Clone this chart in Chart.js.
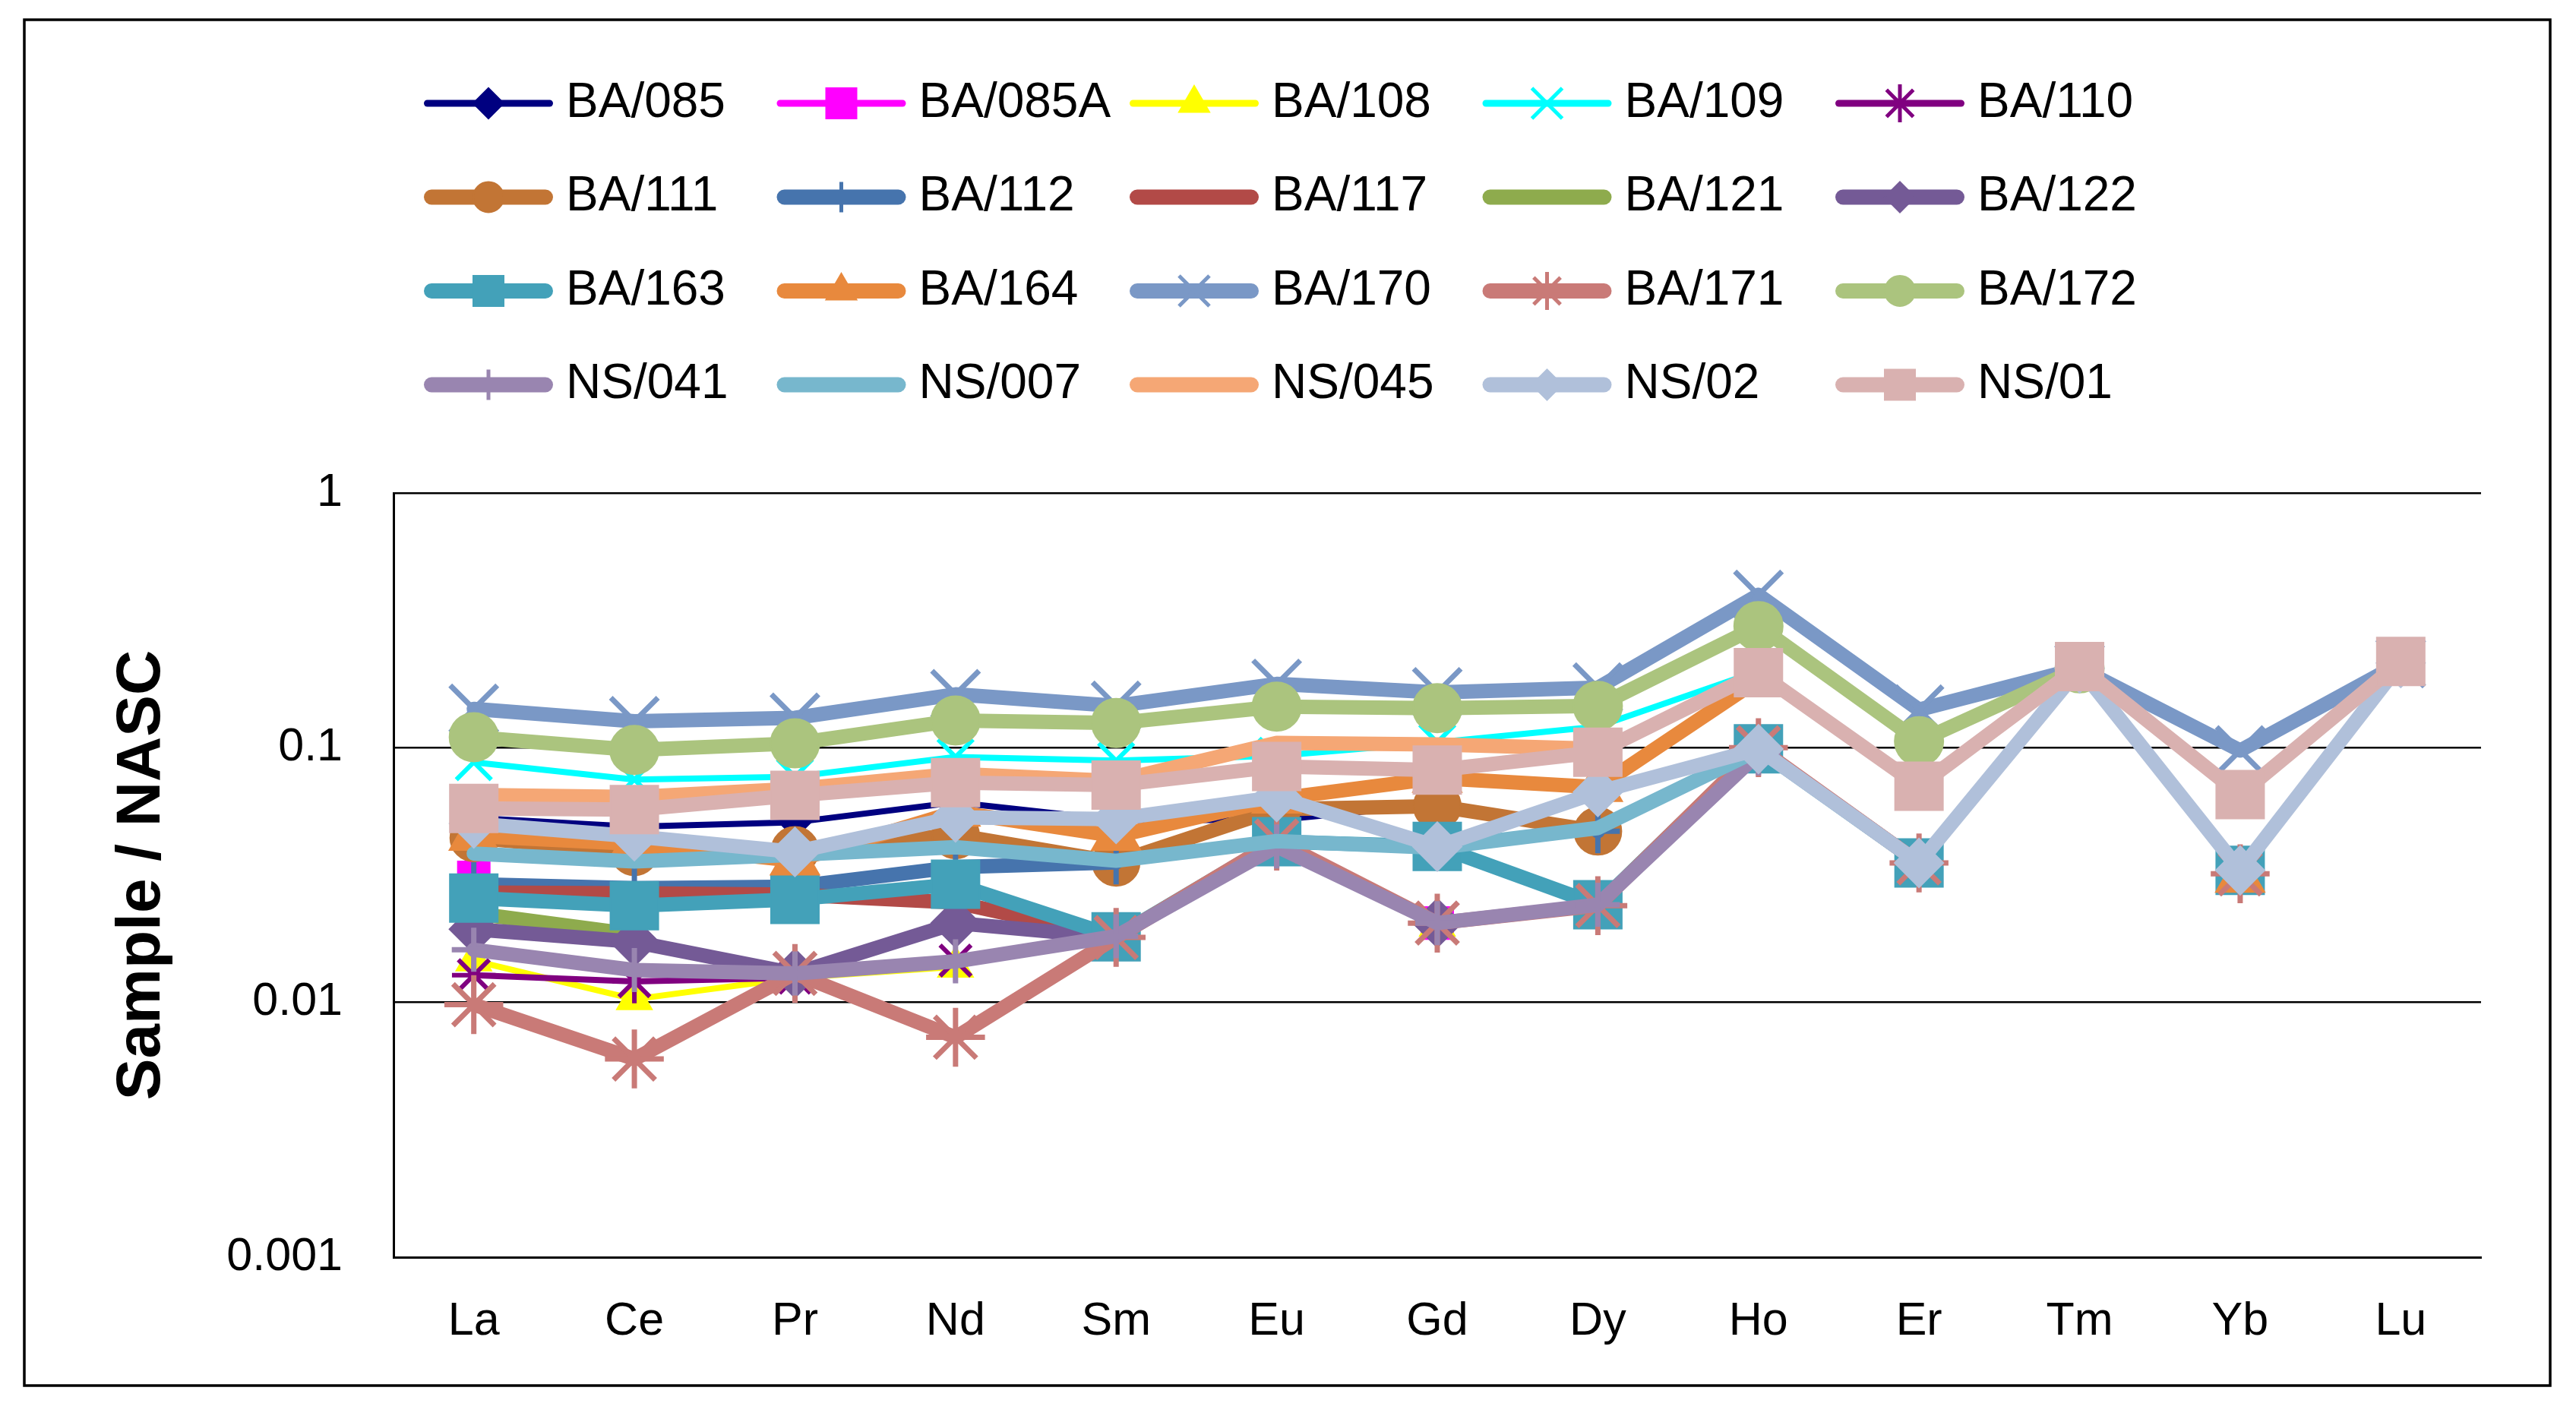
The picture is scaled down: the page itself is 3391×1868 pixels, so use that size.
<!DOCTYPE html>
<html>
<head>
<meta charset="utf-8">
<title>Sample / NASC</title>
<script src="https://cdn.jsdelivr.net/npm/chart.js@4.4.1/dist/chart.umd.min.js"></script>
<style>
    html, body { margin: 0; padding: 0; background: #fff; }
    #wrap { width: 3391px; height: 1868px; }
</style>
</head>
<body>
<div id="wrap"><canvas id="reeChart" width="3391" height="1868"></canvas></div>
<script>
// Rare earth elements along the x axis
const elements = ['La', 'Ce', 'Pr', 'Nd', 'Sm', 'Eu', 'Gd', 'Dy', 'Ho', 'Er', 'Tm', 'Yb', 'Lu'];

// Sample / NASC (null = no value)
const ba085  = [0.053, 0.049, 0.051, 0.061, 0.052, 0.052, 0.060, null, null, null, null, null, null];
const ba085a = [0.031, null, null, null, null, null, 0.0205, null, null, null, null, null, null];
const ba108  = [0.0146, 0.0103, 0.0125, 0.0138, null, null, 0.020, null, null, null, null, null, null];
const ba109  = [0.0877, 0.075, 0.077, 0.092, 0.089, 0.093, 0.105, 0.121, 0.20, null, null, null, null];
const ba110  = [0.0128, 0.0121, 0.0125, 0.0146, null, null, 0.0205, null, null, null, null, null, null];
const ba111  = [0.0443, 0.039, 0.0395, 0.0455, 0.0355, 0.0574, 0.059, 0.047, null, null, null, null, null];
const ba112  = [0.0291, 0.0281, 0.0285, 0.034, 0.0355, null, null, 0.047, null, null, null, null, null];
const ba117  = [0.027, 0.0268, 0.0265, 0.0247, 0.018, null, null, null, null, null, null, null, null];
const ba121  = [0.0224, 0.0185, null, null, null, null, 0.020, null, null, null, null, null, null];
const ba122  = [0.0194, 0.0173, 0.013, 0.0205, 0.018, null, 0.0205, null, null, null, null, null, null];
const ba163  = [0.0257, 0.024, 0.0254, 0.0291, 0.0181, 0.0428, 0.041, 0.0242, 0.099, 0.0353, null, 0.033, null];
const ba164  = [0.045, 0.042, 0.036, 0.056, 0.045, 0.063, 0.076, 0.070, 0.185, null, null, 0.0308, null];
const ba170  = [0.142, 0.127, 0.131, 0.162, 0.146, 0.178, 0.165, 0.172, 0.398, 0.141, 0.205, 0.0975, 0.215];
const ba171  = [0.0098, 0.006, 0.013, 0.0073, 0.018, 0.043, 0.0205, 0.024, 0.100, 0.0353, null, 0.032, null];
const ba172  = [0.110, 0.098, 0.104, 0.128, 0.125, 0.145, 0.143, 0.146, 0.300, 0.106, 0.205, null, null];
const ns041  = [0.0161, 0.0134, 0.013, 0.0145, 0.0182, 0.041, 0.0205, 0.0242, 0.095, null, null, null, null];
const ns007  = [0.0384, 0.0358, 0.038, 0.0407, 0.036, 0.043, 0.0405, 0.0484, 0.098, null, null, null, null];
const ns045  = [0.0652, 0.064, 0.0689, 0.079, 0.074, 0.1045, 0.103, 0.099, null, null, null, null, null];
const ns02   = [0.0504, 0.0449, 0.039, 0.0533, 0.0525, 0.064, 0.0409, 0.067, 0.0988, 0.0353, 0.205, 0.033, 0.215];
const ns01   = [0.0578, 0.0572, 0.065, 0.073, 0.0713, 0.0844, 0.0817, 0.096, 0.197, 0.0706, 0.2084, 0.0655, 0.218];

const seriesNames = ['BA/085', 'BA/085A', 'BA/108', 'BA/109', 'BA/110',
                     'BA/111', 'BA/112', 'BA/117', 'BA/121', 'BA/122',
                     'BA/163', 'BA/164', 'BA/170', 'BA/171', 'BA/172',
                     'NS/041', 'NS/007', 'NS/045', 'NS/02', 'NS/01'];
const seriesValues = [ba085, ba085a, ba108, ba109, ba110,
                      ba111, ba112, ba117, ba121, ba122,
                      ba163, ba164, ba170, ba171, ba172,
                      ns041, ns007, ns045, ns02, ns01];

const yTicks = [0.001, 0.01, 0.1, 1];
const yTickLabels = ['0.001', '0.01', '0.1', '1'];

// Look of each series (same order as seriesNames)
const seriesStyles = [
    { color: '#000080', marker: 'rectRot',  size: 42, thin: true },
    { color: '#FF00FF', marker: 'rect',     size: 42, thin: true },
    { color: '#FFFF00', marker: 'triangle', size: 46, thin: true },
    { color: '#00FFFF', marker: 'crossRot', size: 46, thin: true },
    { color: '#800080', marker: 'star',     size: 46, thin: true },
    { color: '#C27535', marker: 'circle',   size: 62 },
    { color: '#4674AD', marker: 'cross',    size: 58 },
    { color: '#B24A47', marker: null },
    { color: '#8EAB4D', marker: null },
    { color: '#745A96', marker: 'rectRot',  size: 64 },
    { color: '#43A1B9', marker: 'rect',     size: 63 },
    { color: '#E8893D', marker: 'triangle', size: 64 },
    { color: '#7A98C6', marker: 'crossRot', size: 62 },
    { color: '#C97A77', marker: 'star',     size: 62 },
    { color: '#ABC47E', marker: 'circle',   size: 64 },
    { color: '#9985B0', marker: 'cross',    size: 58 },
    { color: '#77B7CD', marker: null },
    { color: '#F5A775', marker: null },
    { color: '#B0C0DA', marker: 'rectRot',  size: 64 },
    { color: '#D9B1B0', marker: 'rect',     size: 63 }
];

const FONT = "'Liberation Sans', Arial, Helvetica, sans-serif";
const STROKED = ['cross', 'crossRot', 'star'];

// convert a marker's visible size (px) to Chart.js point radius
function markerRadius(marker, size) {
    switch (marker) {
        case 'rect':     return size / 1.414;
        case 'triangle': return size / 1.732;
        case 'crossRot': return size / 1.414;
        case 'star':     return size / 1.6;
        default:         return size / 2;
    }
}

function markerBorder(st, legend) {
    if (STROKED.includes(st.marker)) return legend ? 5 : (st.thin ? 6 : 7);
    return 2;
}

// white page + outer frame
const framePlugin = {
    id: 'frame',
    beforeDraw(chart) {
        const ctx = chart.ctx;
        ctx.save();
        ctx.fillStyle = '#fff';
        ctx.fillRect(0, 0, chart.width, chart.height);
        ctx.restore();
    },
    afterDraw(chart) {
        const ctx = chart.ctx;
        ctx.save();
        ctx.strokeStyle = '#000';
        ctx.lineWidth = 3.5;
        ctx.strokeRect(32, 26, 3325, 1798);
        ctx.restore();
    }
};

// legend in a fixed 5 column grid, like the spreadsheet one
const gridLegend = {
    id: 'gridLegend',
    afterDraw(chart) {
        const ctx = chart.ctx;
        ctx.save();
        seriesNames.forEach((name, i) => {
            const st = seriesStyles[i];
            const x0 = 558 + (i % 5) * 464.5;
            const y = 136 + Math.floor(i / 5) * 123.5;
            const lw = st.thin ? 9 : 20;

            ctx.strokeStyle = st.color;
            ctx.lineWidth = lw;
            ctx.lineCap = 'round';
            ctx.beginPath();
            ctx.moveTo(x0 + lw / 2, y);
            ctx.lineTo(x0 + 170 - lw / 2, y);
            ctx.stroke();

            if (st.marker) {
                ctx.fillStyle = st.color;
                ctx.lineWidth = markerBorder(st, true);
                ctx.lineCap = 'butt';
                Chart.helpers.drawPoint(ctx, {
                    pointStyle: st.marker,
                    radius: markerRadius(st.marker, 40),
                    rotation: 0,
                    borderWidth: ctx.lineWidth
                }, x0 + 85, y);
            }

            ctx.fillStyle = '#000';
            ctx.font = '64px ' + FONT;
            ctx.textAlign = 'left';
            ctx.textBaseline = 'middle';
            ctx.fillText(name, x0 + 187, y);
        });
        ctx.restore();
    }
};

const datasets = seriesNames.map((name, i) => {
    const st = seriesStyles[i];
    const r = st.marker ? markerRadius(st.marker, st.size) : 0;
    return {
        label: name,
        data: seriesValues[i],
        borderColor: st.color,
        backgroundColor: st.color,
        borderWidth: st.thin ? 8 : 19,
        borderCapStyle: 'round',
        borderJoinStyle: 'round',
        pointStyle: st.marker || 'circle',
        pointRadius: r,
        pointHoverRadius: r,
        pointBackgroundColor: st.color,
        pointBorderColor: st.color,
        pointBorderWidth: markerBorder(st, false),
        tension: 0,
        spanGaps: false,
        // later series sit on top, as in the original
        order: seriesNames.length - i
    };
});

Chart.defaults.font.family = FONT;
Chart.defaults.color = '#000';

const reeChart = new Chart(document.getElementById('reeChart'), {
    type: 'line',
    data: {
        labels: elements,
        datasets: datasets
    },
    options: {
        responsive: false,
        devicePixelRatio: 1,
        animation: false,
        events: [],
        layout: {
            padding: { top: 649, right: 125, bottom: 0, left: 0 }
        },
        plugins: {
            legend: { display: false },
            tooltip: { enabled: false }
        },
        scales: {
            x: {
                type: 'category',
                offset: true,
                grid: { display: false },
                border: { display: true, color: '#000', width: 3 },
                ticks: {
                    color: '#000',
                    font: { size: 61, family: FONT, lineHeight: 1.2 },
                    padding: 41,
                    maxRotation: 0,
                    autoSkip: false
                },
                afterFit(scale) { scale.height = 213; }
            },
            y: {
                type: 'logarithmic',
                min: 0.001,
                max: 1,
                grid: { color: '#000', lineWidth: 2.5, drawTicks: false },
                border: { display: true, color: '#000', width: 3 },
                afterBuildTicks(scale) {
                    scale.ticks = yTicks.map(v => ({ value: v }));
                },
                ticks: {
                    color: '#000',
                    font: { size: 61, family: FONT },
                    padding: 67,
                    callback: (value) => {
                        const k = yTicks.indexOf(value);
                        return k >= 0 ? yTickLabels[k] : '';
                    }
                },
                title: {
                    display: true,
                    text: 'Sample / NASC',
                    color: '#000',
                    font: { size: 82, weight: 'bold', family: FONT, lineHeight: 1 },
                    padding: { top: 146, bottom: 0 }
                },
                afterFit(scale) { scale.width = 518; }
            }
        }
    },
    plugins: [framePlugin, gridLegend]
});
</script>
</body>
</html>
